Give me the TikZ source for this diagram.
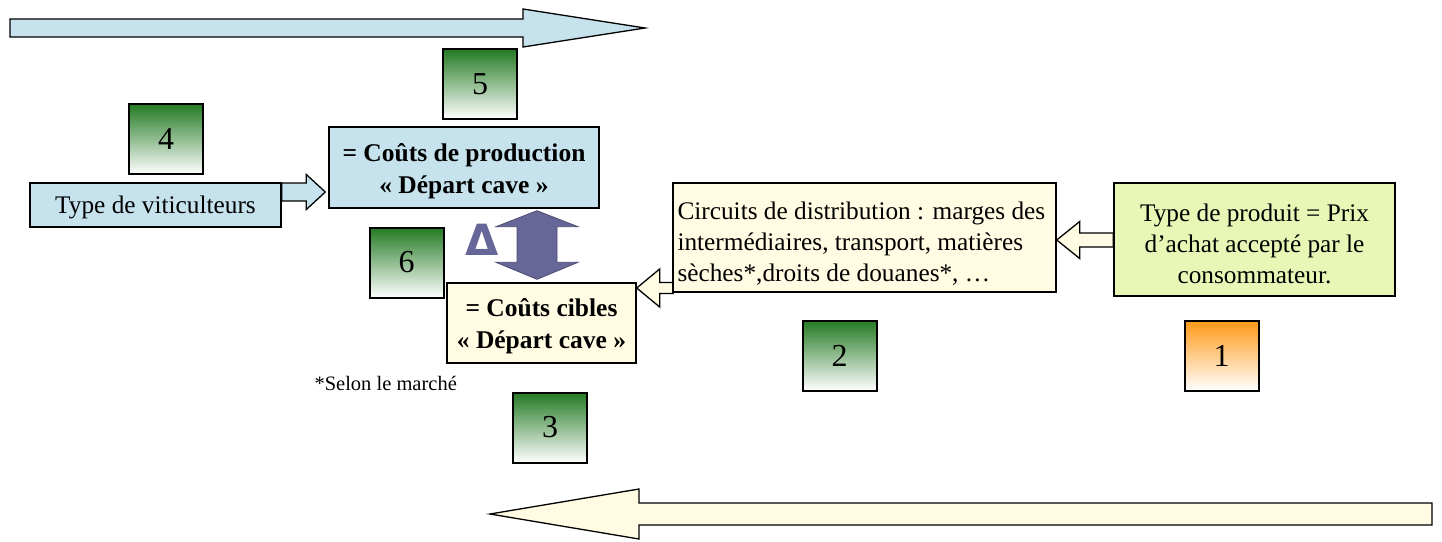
\documentclass[tikz,border=0pt]{standalone}
\usepackage{fontspec}
\setmainfont{Liberation Serif}
\newfontfamily\deltafont{DejaVu Sans}
\usetikzlibrary{calc,shadows,backgrounds}

\definecolor{skyfill}{HTML}{C6E3ED}
\definecolor{creamfill}{HTML}{FFFCE3}
\definecolor{limefill}{HTML}{E8F6B6}
\definecolor{deltapurple}{HTML}{666699}
\definecolor{leafgreen}{HTML}{237A23}
\definecolor{tangerine}{HTML}{FF9916}

% horizontal block arrow: #1 tail, #2 tip, #3 half shaft, #4 half head, #5 head length, #6 style
\newcommand\hblockarrow[6]{%
  \coordinate (hb) at ($(#2)!#5!(#1)$);
  \draw[#6] ($(#1)+(0,#3)$) -- ($(hb)+(0,#3)$) -- ($(hb)+(0,#4)$) -- (#2)
    -- ($(hb)+(0,-#4)$) -- ($(hb)+(0,-#3)$) -- ($(#1)+(0,-#3)$) -- cycle;}

\tikzset{
  txt/.style={font=\fontsize{25.3}{31}\selectfont, inner sep=0pt},
  bold/.style={font=\bfseries\fontsize{25.5}{32}\selectfont, inner sep=0pt, align=center},
  boxed/.style={draw=black, line width=1.4pt, inner sep=0pt,
    general shadow={fill=black!30, shadow xshift=1.2pt, shadow yshift=-1.2pt}},
  numbox/.style={draw=black, line width=2pt, minimum width=74pt, minimum height=70pt,
    inner sep=0pt, top color=#1, bottom color=white, font=\fontsize{32}{32}\selectfont,
    general shadow={fill=black!30, shadow xshift=1.2pt, shadow yshift=-1.2pt}},
  numbox/.default=leafgreen,
  blockarr/.style={draw=black, line width=1.3pt, line join=miter},
}

\begin{document}
\begin{tikzpicture}[x=1pt,y=-1pt]
\useasboundingbox (0,0) rectangle (1442,541);

% long flow arrows
\coordinate (topTail) at (10,28);
\coordinate (topTip) at (645,28);
\hblockarrow{topTail}{topTip}{9}{19}{122pt}{blockarr, fill=skyfill}
\coordinate (botTail) at (1432,514);
\coordinate (botTip) at (490,514);
\hblockarrow{botTail}{botTip}{11}{25}{149pt}{blockarr, fill=creamfill}

% main boxes (frames) and their texts
\node[boxed, fill=skyfill, minimum width=251pt, minimum height=44pt] (vit) at (155.5,205) {};
\node[txt] (vitText) at ($(vit.center)+(0,2)$) {Type de viticulteurs};

\node[boxed, fill=skyfill, minimum width=270pt, minimum height=81pt] (prod) at (464,167.5) {};
\node[bold] (prodText) at ($(prod.center)+(0,3.5)$) {= Coûts de production\\« Départ cave »};

\node[boxed, fill=creamfill, minimum width=189pt, minimum height=80pt] (cib) at (541.5,323) {};
\node[bold] (cibText) at ($(cib.center)+(0,3.5)$) {= Coûts cibles\\« Départ cave »};

\node[boxed, fill=creamfill, minimum width=383pt, minimum height=109pt] (dist) at (864.5,237.5) {};
\node[txt, align=left, anchor=west] (distText) at ($(dist.west)+(5,6)$)
  {Circuits de distribution : marges des\\intermédiaires, transport, matières\\sèches*,droits de douanes*, …};

\node[boxed, fill=limefill, minimum width=281pt, minimum height=113pt] (prix) at (1254.5,239.5) {};
\node[txt, align=center] (prixText) at ($(prix.center)+(0,4)$)
  {Type de produit = Prix\\d’achat accepté par le\\consommateur.};

% numbered markers
\node[numbox] (n5) at (480,84) {5};
\node[numbox] (n4) at (166,139) {4};
\node[numbox] (n6) at (406.5,262.5) {6};
\node[numbox] (n2) at (839.5,355.5) {2};
\node[numbox=tangerine] (n1) at (1221.5,355.5) {1};
\node[numbox] (n3) at (550,427.5) {3};

\node[anchor=west, font=\fontsize{20.5}{24}\selectfont] (selon) at (311,383) {*Selon le marché};
\node[text=deltapurple, font=\deltafont\bfseries\fontsize{43}{43}\selectfont, inner sep=0pt] (delta) at (482,240) {Δ};

% connectors between boxes
\coordinate (v2pTail) at (vit.east |- 0,192);
\coordinate (v2pTip) at ($(prod.west |- 0,192)+(-3,0)$);
\hblockarrow{v2pTail}{v2pTip}{9}{17.5}{19pt}{blockarr, fill=skyfill}

\coordinate (p2dTail) at (prix.west |- 0,240);
\coordinate (p2dTip) at (dist.east |- 0,240);
\hblockarrow{p2dTail}{p2dTip}{7}{18.5}{23pt}{blockarr, fill=creamfill}

\begin{scope}[on background layer]
  \coordinate (d2cTail) at ($(dist.west |- 0,288)+(1,0)$);
  \coordinate (d2cTip) at (cib.east |- 0,288);
  \hblockarrow{d2cTail}{d2cTip}{5.5}{19}{23pt}{blockarr, fill=creamfill}
\end{scope}

% gap between the two cost levels
\coordinate (dx) at (537,0);
\coordinate (dTop) at ($(dx |- prod.south)+(0,2)$);
\coordinate (dBot) at ($(dx |- cib.north)+(0,-3)$);
\draw[fill=deltapurple, draw=deltapurple!75!black, line width=0.8pt]
  (dTop) -- ($(dTop)+(41,16)$) -- ($(dTop)+(20,16)$) -- ($(dBot)+(20,-17)$) -- ($(dBot)+(41,-17)$)
  -- (dBot) -- ($(dBot)+(-41,-17)$) -- ($(dBot)+(-20,-17)$) -- ($(dTop)+(-20,16)$) -- ($(dTop)+(-41,16)$) -- cycle;
\end{tikzpicture}
\end{document}
